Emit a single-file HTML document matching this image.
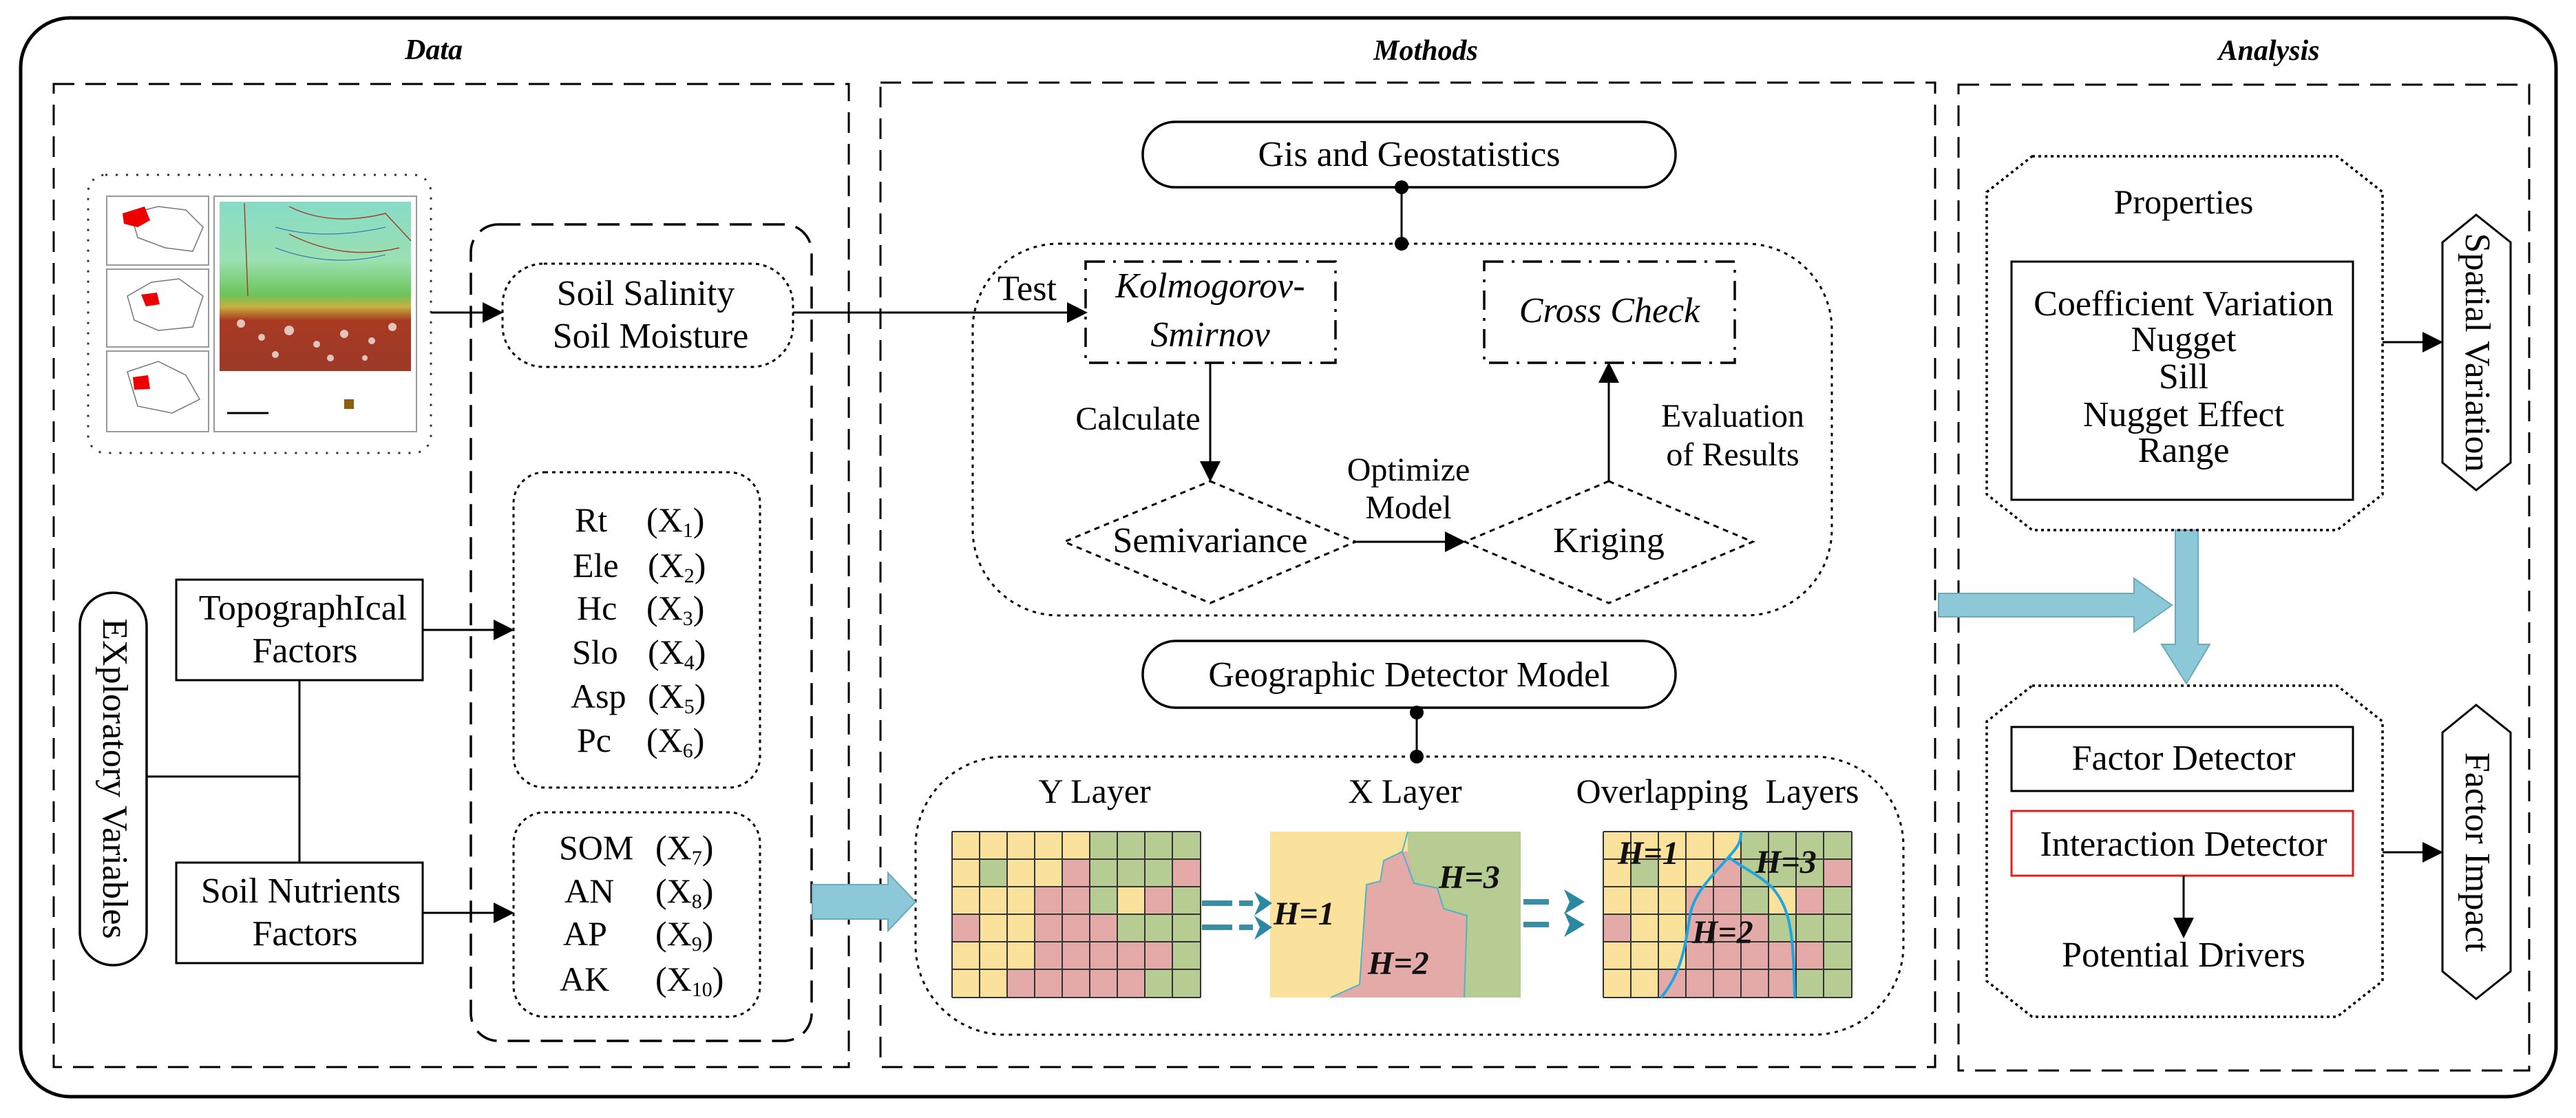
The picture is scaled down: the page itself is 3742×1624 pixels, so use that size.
<!DOCTYPE html>
<html><head><meta charset="utf-8"><style>html,body{margin:0;padding:0;background:#fff}svg{display:block}svg text{font-family:"Liberation Serif","Times New Roman",Times,"DejaVu Serif",serif}</style></head><body>
<svg xmlns="http://www.w3.org/2000/svg" width="3742" height="1624" viewBox="0 0 3742 1624" font-family="Liberation Serif, Times New Roman, Times, serif">
<defs>
<marker id="ahb" viewBox="0 0 10 10" refX="9" refY="5" markerWidth="40" markerHeight="30" orient="auto" markerUnits="userSpaceOnUse"><path d="M0,0 L10,5 L0,10 Z" fill="#000"/></marker>
<linearGradient id="mapg" x1="0" y1="0" x2="0" y2="1">
<stop offset="0" stop-color="#86dcc8"/><stop offset="0.35" stop-color="#9be0b0"/><stop offset="0.55" stop-color="#6cc45a"/><stop offset="0.62" stop-color="#c8b040"/><stop offset="0.7" stop-color="#a83a22"/><stop offset="1" stop-color="#9c3a28"/>
</linearGradient>
</defs>

<rect x="30" y="26" width="3683" height="1567" rx="72" fill="none" stroke="#000" stroke-width="5"/>
<g font-weight="bold" font-style="italic" font-size="42" text-anchor="middle">
<text x="630" y="86">Data</text><text x="2071" y="87">Mothods</text><text x="3296" y="87">Analysis</text>
</g>
<g fill="none" stroke="#000" stroke-width="3" stroke-dasharray="30,16">
<rect x="78" y="122" width="1155" height="1428"/>
<rect x="1279" y="120" width="1532" height="1430"/>
<rect x="2845" y="123" width="829" height="1432"/>
</g>

<rect x="128" y="254" width="498" height="404" rx="25" fill="none" stroke="#333" stroke-width="3" stroke-dasharray="3,12"/>
<g stroke="#999" stroke-width="2" fill="#fff">
<rect x="155" y="285" width="148" height="100"/><rect x="155" y="391" width="148" height="113"/><rect x="155" y="510" width="148" height="117"/>
<rect x="311" y="285" width="294" height="342"/>
</g>
<g fill="none" stroke="#777" stroke-width="1.5">
<path d="M190,310 L230,300 L270,305 L295,330 L280,365 L240,360 L200,345 Z"/>
<path d="M185,430 L220,410 L260,405 L295,430 L280,475 L230,480 L195,465 Z"/>
<path d="M185,540 L230,525 L270,545 L290,580 L250,600 L200,590 Z"/>
</g>
<path d="M178,310 L210,300 L218,320 L200,330 L180,325 Z" fill="#e00"/>
<path d="M205,428 L228,425 L232,442 L212,445 Z" fill="#e00"/>
<path d="M193,548 L215,545 L218,565 L195,566 Z" fill="#e00"/>
<rect x="319" y="293" width="278" height="246" fill="url(#mapg)"/>
<g fill="#fff" opacity="0.7"><circle cx="350" cy="470" r="6"/><circle cx="380" cy="490" r="5"/><circle cx="420" cy="480" r="7"/><circle cx="460" cy="500" r="5"/><circle cx="500" cy="485" r="6"/><circle cx="540" cy="495" r="5"/><circle cx="570" cy="475" r="6"/><circle cx="400" cy="515" r="5"/><circle cx="480" cy="520" r="5"/><circle cx="530" cy="520" r="4"/></g>
<g fill="none" stroke="#a04030" stroke-width="1.5"><path d="M355,295 L360,430"/><path d="M420,300 Q480,330 560,310 L597,350"/><path d="M420,340 Q500,380 580,360"/></g>
<g fill="none" stroke="#3060c0" stroke-width="1"><path d="M400,330 Q470,350 560,330"/><path d="M400,360 Q480,390 560,370"/></g>
<rect x="500" y="580" width="14" height="14" fill="#8a6010"/><line x1="330" y1="600" x2="390" y2="600" stroke="#000" stroke-width="3"/>

<rect x="684" y="326" width="495" height="1186" rx="40" fill="none" stroke="#000" stroke-width="3.5" stroke-dasharray="32,16"/>
<g fill="none" stroke="#000" stroke-width="3" stroke-dasharray="5,6">
<rect x="730" y="383" width="422" height="150" rx="60"/>
<rect x="746" y="686" width="358" height="458" rx="45"/>
<rect x="746" y="1180" width="358" height="297" rx="45"/>
</g>
<g font-size="52" text-anchor="middle"><text x="938" y="443">Soil Salinity</text><text x="945" y="505">Soil Moisture</text></g>
<g font-size="50">
<text x="835" y="772">Rt</text><text x="939" y="772">(X<tspan font-size="30" dy="8">1</tspan><tspan dy="-8">)</tspan></text>
<text x="832" y="838">Ele</text><text x="941" y="838">(X<tspan font-size="30" dy="8">2</tspan><tspan dy="-8">)</tspan></text>
<text x="838" y="900">Hc</text><text x="939" y="900">(X<tspan font-size="30" dy="8">3</tspan><tspan dy="-8">)</tspan></text>
<text x="831" y="964">Slo</text><text x="941" y="964">(X<tspan font-size="30" dy="8">4</tspan><tspan dy="-8">)</tspan></text>
<text x="829" y="1028">Asp</text><text x="941" y="1028">(X<tspan font-size="30" dy="8">5</tspan><tspan dy="-8">)</tspan></text>
<text x="838" y="1092">Pc</text><text x="939" y="1092">(X<tspan font-size="30" dy="8">6</tspan><tspan dy="-8">)</tspan></text>
<text x="812" y="1248">SOM</text><text x="952" y="1248">(X<tspan font-size="30" dy="8">7</tspan><tspan dy="-8">)</tspan></text>
<text x="820" y="1311">AN</text><text x="952" y="1311">(X<tspan font-size="30" dy="8">8</tspan><tspan dy="-8">)</tspan></text>
<text x="818" y="1373">AP</text><text x="952" y="1373">(X<tspan font-size="30" dy="8">9</tspan><tspan dy="-8">)</tspan></text>
<text x="813" y="1439">AK</text><text x="952" y="1439">(X<tspan font-size="30" dy="8">10</tspan><tspan dy="-8">)</tspan></text>
</g>

<rect x="116" y="861" width="97" height="541" rx="48" fill="none" stroke="#000" stroke-width="3.5"/>
<text transform="translate(150,1131) rotate(90)" font-size="52" text-anchor="middle">EXploratory Variables</text>
<g fill="none" stroke="#000" stroke-width="3">
<rect x="256" y="842" width="358" height="146"/><rect x="256" y="1253" width="358" height="146"/>
<path d="M213,1128 H435 M435,988 V1253"/>
</g>
<g font-size="52" text-anchor="middle">
<text x="440" y="900">TopographIcal</text><text x="443" y="962">Factors</text>
<text x="437" y="1311">Soil Nutrients</text><text x="443" y="1373">Factors</text>
</g>
<g stroke="#000" stroke-width="3" fill="none">
<line x1="626" y1="454" x2="728" y2="454" marker-end="url(#ahb)"/>
<line x1="614" y1="915" x2="744" y2="915" marker-end="url(#ahb)"/>
<line x1="614" y1="1326" x2="744" y2="1326" marker-end="url(#ahb)"/>
<path d="M1152,454 H1577" marker-end="url(#ahb)"/>
</g>

<rect x="1660" y="177" width="774" height="95" rx="47" fill="none" stroke="#000" stroke-width="3.5"/>
<text x="2047" y="241" font-size="52" text-anchor="middle">Gis and Geostatistics</text>
<line x1="2036" y1="272" x2="2036" y2="354" stroke="#000" stroke-width="3"/>
<circle cx="2036" cy="272" r="10"/><circle cx="2036" cy="354" r="10"/>
<rect x="1413" y="354" width="1248" height="540" rx="125" fill="none" stroke="#000" stroke-width="3" stroke-dasharray="5,7"/>
<g fill="none" stroke="#000" stroke-width="3.5" stroke-dasharray="28,12,4,12">
<rect x="1577" y="380" width="363" height="147"/><rect x="2156" y="380" width="364" height="147"/>
</g>
<g font-size="52" text-anchor="middle">
<text x="1492" y="436">Test</text>
<text x="1758" y="432" font-style="italic">Kolmogorov-</text><text x="1758" y="503" font-style="italic">Smirnov</text>
<text x="2338" y="468" font-style="italic">Cross Check</text>
<text x="1653" y="624" font-size="48">Calculate</text>
<text x="2046" y="698" font-size="48">Optimize</text><text x="2046" y="753" font-size="48">Model</text>
<text x="2517" y="620" font-size="48">Evaluation</text><text x="2517" y="676" font-size="48">of Results</text>
<text x="1758" y="802">Semivariance</text><text x="2337" y="802">Kriging</text>
</g>
<g fill="none" stroke="#000" stroke-width="3" stroke-dasharray="8,7">
<path d="M1758,699 L1969,787 L1758,876 L1546,787 Z"/>
<path d="M2337,699 L2546,787 L2337,876 L2128,787 Z"/>
</g>
<g stroke="#000" stroke-width="3">
<line x1="1758" y1="527" x2="1758" y2="697" marker-end="url(#ahb)"/>
<line x1="1969" y1="787" x2="2126" y2="787" marker-end="url(#ahb)"/>
<line x1="2337" y1="699" x2="2337" y2="529" marker-end="url(#ahb)"/>
</g>

<rect x="1660" y="931" width="774" height="97" rx="48" fill="none" stroke="#000" stroke-width="3.5"/>
<text x="2047" y="997" font-size="52" text-anchor="middle">Geographic Detector Model</text>
<line x1="2058" y1="1035" x2="2058" y2="1099" stroke="#000" stroke-width="3"/>
<circle cx="2058" cy="1035" r="10"/><circle cx="2058" cy="1099" r="10"/>
<rect x="1330" y="1099" width="1435" height="404" rx="130" fill="none" stroke="#000" stroke-width="3" stroke-dasharray="5,7"/>
<g font-size="50" text-anchor="middle"><text x="1590" y="1166">Y Layer</text><text x="2041" y="1166">X Layer</text><text x="2495" y="1166">Overlapping&#160; Layers</text></g>

<g id="ygrid">
<g stroke="none">
<g fill="#fbe29c">
<rect x="1383" y="1208" width="200" height="40"/>
<rect x="1383" y="1248" width="40" height="40"/><rect x="1463" y="1248" width="80" height="40"/>
<rect x="1383" y="1288" width="120" height="40"/><rect x="1623" y="1288" width="40" height="40"/>
<rect x="1423" y="1328" width="80" height="40"/>
<rect x="1383" y="1368" width="120" height="40"/>
<rect x="1383" y="1408" width="80" height="41"/>
</g>
<g fill="#b6cc93">
<rect x="1583" y="1208" width="161" height="40"/>
<rect x="1423" y="1248" width="40" height="40"/><rect x="1583" y="1248" width="120" height="40"/>
<rect x="1583" y="1288" width="40" height="40"/><rect x="1703" y="1288" width="41" height="40"/>
<rect x="1623" y="1328" width="121" height="40"/>
<rect x="1703" y="1368" width="41" height="40"/>
<rect x="1663" y="1408" width="81" height="41"/>
</g>
<g fill="#e3aaa8">
<rect x="1543" y="1248" width="40" height="40"/><rect x="1703" y="1248" width="41" height="40"/>
<rect x="1503" y="1288" width="80" height="40"/><rect x="1663" y="1288" width="40" height="40"/>
<rect x="1383" y="1328" width="40" height="40"/><rect x="1503" y="1328" width="120" height="40"/>
<rect x="1503" y="1368" width="200" height="40"/>
<rect x="1463" y="1408" width="200" height="41"/>
</g>
</g>
<g stroke="#333" stroke-width="2">
<path d="M1383,1208V1449M1423,1208V1449M1463,1208V1449M1503,1208V1449M1543,1208V1449M1583,1208V1449M1623,1208V1449M1663,1208V1449M1703,1208V1449M1744,1208V1449"/>
<path d="M1383,1208H1744M1383,1248H1744M1383,1288H1744M1383,1328H1744M1383,1368H1744M1383,1408H1744M1383,1449H1744"/>
</g>
</g>
<use href="#ygrid" transform="translate(946,0)"/>
<g stroke="#1ea6e0" stroke-width="4" fill="none">
<path d="M2529,1208 C2530,1225 2520,1235 2511,1245 C2480,1280 2460,1300 2455,1330 C2448,1370 2445,1410 2413,1449"/>
<path d="M2511,1245 C2530,1260 2555,1270 2575,1290 C2600,1320 2605,1350 2607,1449"/>
</g>
<g font-weight="bold" font-style="italic" font-size="48" fill="#111">
<text x="2350" y="1255">H=1</text><text x="2550" y="1268">H=3</text><text x="2458" y="1370">H=2</text>
</g>

<rect x="1845" y="1208" width="364" height="241" fill="#fbe29c"/>
<path d="M2045,1208 L2209,1208 L2209,1449 L2127,1449 L2131,1330 L2097,1320 L2088,1290 L2054,1283 L2045,1237 Z" fill="#b6cc93"/>
<path d="M2045,1237 L2054,1283 L2088,1290 L2097,1320 L2131,1330 L2127,1449 L1933,1449 L1975,1430 L1985,1285 L2005,1280 L2010,1250 L2037,1237 Z" fill="#e3aaa8"/>
<g stroke="#4ab6c8" stroke-width="2" fill="none"><path d="M2045,1208 L2037,1237 L2010,1250 L2005,1280 L1985,1285 L1975,1430 L1933,1449"/><path d="M2037,1237 L2054,1283 L2088,1290 L2097,1320 L2131,1330 L2127,1449"/></g>
<g font-weight="bold" font-style="italic" font-size="48" fill="#111">
<text x="1850" y="1343">H=1</text><text x="2090" y="1290">H=3</text><text x="1987" y="1415">H=2</text>
</g>
<g stroke="#3a8ea3" stroke-width="8"><path d="M1746,1312H1790M1800,1312H1820M1746,1347H1790M1800,1347H1820M2213,1310H2250M2213,1343H2250"/></g>
<g fill="#2a88a0"><path d="M1822,1295 L1848,1312 L1822,1330 L1830,1312Z"/><path d="M1822,1330 L1848,1347 L1822,1365 L1830,1347Z"/><path d="M2272,1292 L2302,1310 L2272,1328 L2280,1310Z"/><path d="M2272,1325 L2302,1343 L2272,1361 L2280,1343Z"/></g>

<g fill="#8cc8d8" stroke="#6aaabb" stroke-width="2">
<path d="M1180,1285 H1290 V1268 L1330,1310 L1290,1352 V1335 H1180 Z"/>
<path d="M2816,862 H3100 V840 L3155,879 L3100,918 V896 H2816 Z"/>
<path d="M3160,770 H3193 V936 H3210 L3176,993 L3140,936 H3160 Z"/>
</g>

<g fill="none" stroke="#000" stroke-width="3.5" stroke-dasharray="4,5">
<path d="M2952,227 H3395 L3461,279 V718 L3395,770 H2952 L2886,718 V279 Z"/>
<path d="M2952,996 H3395 L3461,1048 V1425 L3395,1477 H2952 L2886,1425 V1048 Z"/>
</g>
<text x="3172" y="310" font-size="50" text-anchor="middle">Properties</text>
<rect x="2922" y="380" width="496" height="346" fill="none" stroke="#000" stroke-width="3"/>
<g font-size="52" text-anchor="middle">
<text x="3172" y="458">Coefficient Variation</text><text x="3172" y="510">Nugget</text><text x="3172" y="564">Sill</text><text x="3172" y="619">Nugget Effect</text><text x="3172" y="671">Range</text>
</g>
<rect x="2922" y="1056" width="496" height="93" fill="none" stroke="#000" stroke-width="3"/>
<rect x="2922" y="1178" width="496" height="94" fill="none" stroke="#e02020" stroke-width="3"/>
<g font-size="52" text-anchor="middle">
<text x="3172" y="1118">Factor Detector</text><text x="3172" y="1243">Interaction Detector</text><text x="3172" y="1404">Potential Drivers</text>
</g>
<line x1="3172" y1="1272" x2="3172" y2="1360" stroke="#000" stroke-width="3" marker-end="url(#ahb)"/>
<g fill="none" stroke="#000" stroke-width="3">
<path d="M3597,312 L3647,352 V672 L3597,712 L3548,672 V352 Z"/>
<path d="M3597,1024 L3647,1064 V1411 L3597,1451 L3548,1411 V1064 Z"/>
</g>
<text transform="translate(3582,512) rotate(90)" font-size="52" text-anchor="middle">Spatial Variation</text>
<text transform="translate(3582,1238) rotate(90)" font-size="52" text-anchor="middle">Factor Impact</text>
<g stroke="#000" stroke-width="3">
<line x1="3461" y1="497" x2="3546" y2="497" marker-end="url(#ahb)"/>
<line x1="3461" y1="1238" x2="3546" y2="1238" marker-end="url(#ahb)"/>
</g>
</svg>
</body></html>
